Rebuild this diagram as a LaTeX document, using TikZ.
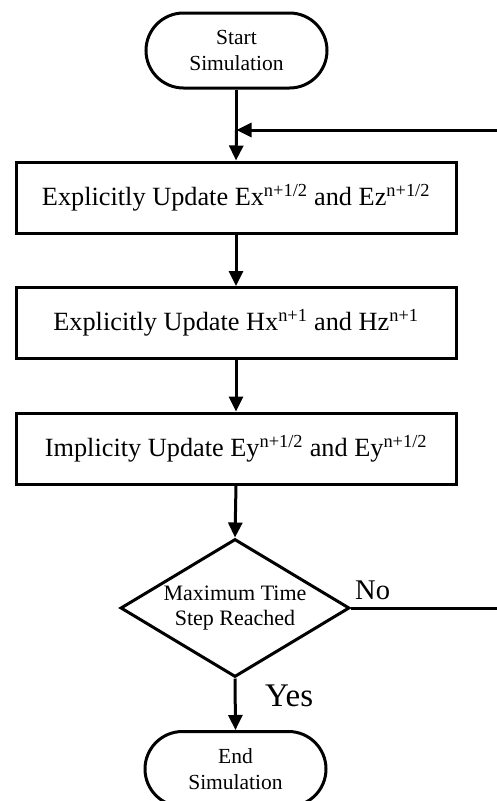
\documentclass[tikz,border=0pt]{standalone}
\usepackage{fontspec}
\setmainfont{Liberation Serif}
\usetikzlibrary{shapes.geometric,shapes.misc,arrows.meta}
\tikzset{
  line/.style={line width=3pt},
  arr/.style={line width=3pt,-{Triangle[length=15pt,width=14pt]}},
  term/.style={draw,line width=3pt,rounded rectangle,minimum width=181pt,minimum height=75pt,inner sep=0pt,align=center,font=\fontsize{21.5}{26.5}\selectfont},
  procbox/.style={draw,line width=3pt,rectangle,minimum width=440pt,minimum height=71pt,inner sep=0pt,font=\fontsize{26.3}{30}\selectfont},
  decision/.style={draw,line width=3pt,diamond,aspect=1.66,minimum width=229pt,minimum height=138pt,inner sep=0pt,align=center,font=\fontsize{22}{25}\selectfont},
  lbl/.style={inner sep=0pt}
}
\begin{document}
\begin{tikzpicture}[x=1pt,y=-1pt]
\useasboundingbox (0,0) rectangle (497,801);
\node[term] (start) at (236.5,50.5) {Start\\Simulation};
\coordinate (join) at (236.5,130);
\coordinate (edgetop) at (497,130);
\node[procbox] (b1) at (236,197.5) {Explicitly Update Ex\textsuperscript{n+1/2} and Ez\textsuperscript{n+1/2}};
\node[procbox] (b2) at (236,323) {Explicitly Update Hx\textsuperscript{n+1} and Hz\textsuperscript{n+1}};
\node[procbox] (b3) at (236,448.5) {Implicity Update Ey\textsuperscript{n+1/2} and Ey\textsuperscript{n+1/2}};
\node[decision] (dec) at (235,608) {Maximum Time\\Step Reached};
\coordinate (edgeno) at (497,608);
\node[term] (end) at (235.5,769) {End\\Simulation};
\node[lbl,anchor=base west,font=\fontsize{28.5}{32}\selectfont] (no) at (355,599) {No};
\node[lbl,anchor=base west,font=\fontsize{33}{36}\selectfont] (yes) at (265,706) {Yes};
\draw[line] (start.south) -- (join);
\draw[arr] (join) -- (b1.north);
\draw[arr] (edgetop) -- (join);
\draw[arr] (b1.south) -- (b2.north);
\draw[arr] (b2.south) -- (b3.north);
\draw[arr] (b3.south) -- (dec.north);
\draw[arr] (dec.south) -- (end.north);
\draw[line] (dec.east) -- (edgeno);
\end{tikzpicture}
\end{document}
